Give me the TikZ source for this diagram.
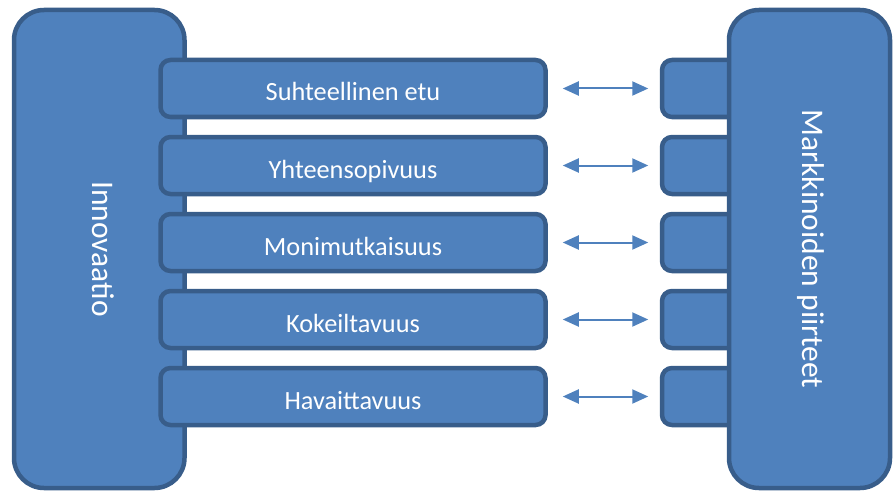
\documentclass[tikz,border=0pt]{standalone}
\usepackage{fontspec}
\setmainfont{Carlito}
\usetikzlibrary{arrows.meta}

\definecolor{boxfill}{HTML}{4F81BD}
\definecolor{boxline}{HTML}{385D8A}

\tikzset{
  panel/.style={draw=boxline, fill=boxfill, line width=4.5pt, rounded corners=30pt,
    inner sep=0pt, text=white, font=\fontsize{31.5}{36}\selectfont, rotate=-90},
  factor/.style={draw=boxline, fill=boxfill, line width=4.5pt, rounded corners=10pt,
    inner sep=0pt, text=white, minimum height=57pt, text height=25pt, text depth=0pt,
    font=\fontsize{26.3}{30}\selectfont},
  leftfactor/.style={factor, minimum width=385pt},
  rightfactor/.style={factor, minimum width=98pt},
  link/.style={draw=boxfill, line width=2pt, {Triangle[length=16pt,width=14pt]}-{Triangle[length=16pt,width=14pt]},
    shorten <=15pt, shorten >=11.5pt}
}

\begin{document}
\begin{tikzpicture}[x=1pt, y=-1pt]
  \useasboundingbox (0,0) rectangle (893,492);

  % left column: the innovation
  \node[panel, minimum width=478pt, minimum height=170.5pt, text height=14.5pt, text depth=0pt]
    (inno) at (99.25,249) {Innovaatio};

  % attribute boxes on the left and their counterparts on the right
  \foreach \i/\t in {0/Suhteellinen etu, 1/Yhteensopivuus, 2/Monimutkaisuus, 3/Kokeiltavuus, 4/Havaittavuus} {
    \node[leftfactor] (l\i) at (353, 88.5+77*\i) {\t};
    \node[rightfactor] (r\i) at (711, 88.5+77*\i) {};
  }

  % right column: the market characteristics
  \node[panel, minimum width=478pt, minimum height=161pt, text height=15pt, text depth=0pt]
    (mark) at (809.5,249) {Markkinoiden piirteet};

  % two-way links between matching boxes
  \foreach \i in {0,...,4} {
    \draw[link] (l\i.east) -- (r\i.west);
  }
\end{tikzpicture}
\end{document}
